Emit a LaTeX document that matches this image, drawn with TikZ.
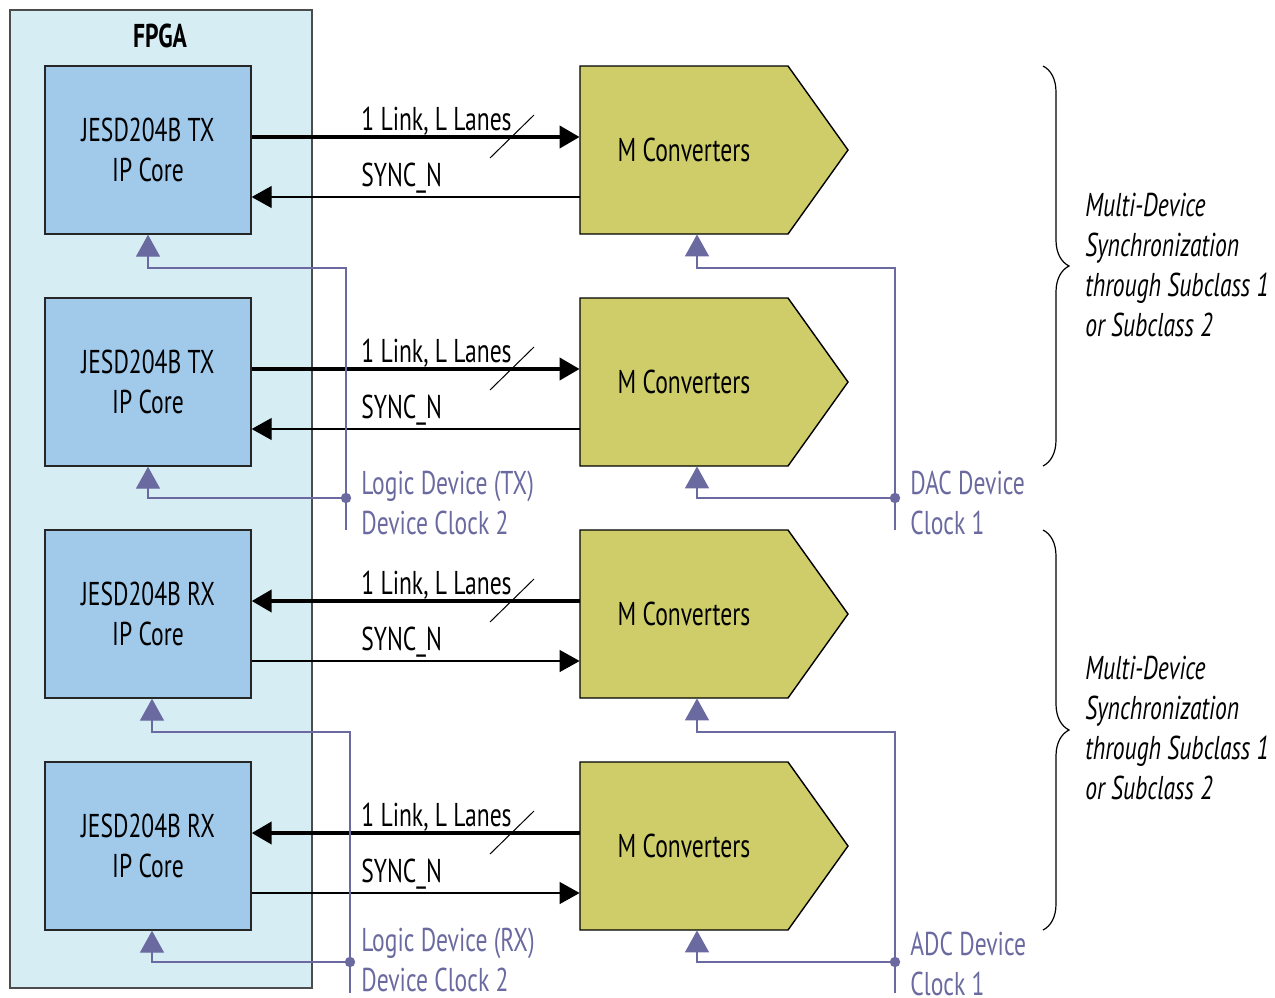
\documentclass[tikz,border=0pt]{standalone}
\usepackage{fontspec}
\setmainfont{PT Sans}[FakeStretch=0.715]
\usetikzlibrary{arrows.meta,decorations.pathreplacing}

\definecolor{fpgacyan}{RGB}{213,237,243}
\definecolor{corebl}{RGB}{160,201,234}
\definecolor{convgr}{RGB}{207,205,106}
\definecolor{clkpur}{RGB}{106,106,160}

\begin{document}
\begin{tikzpicture}[x=0.5pt,y=-0.5pt,font=\fontsize{16.5}{20}\selectfont]
		\tikzstyle fpga_style=[draw=black!70,fill=fpgacyan,line width=0.7pt,minimum width=151pt,minimum height=489pt];
		\tikzstyle core_style=[draw=black!85,fill=corebl,line width=0.7pt,minimum width=103pt,minimum height=84pt,align=center];
		\tikzstyle conv_style=[minimum width=104pt,minimum height=84pt,inner sep=0pt];
		\tikzstyle link_style=[line width=2pt,-{Triangle[length=10pt,width=11pt]}];
		\tikzstyle sync_style=[line width=0.6pt,-{Triangle[length=10pt,width=11pt]}];
		\tikzstyle clk_style=[clkpur,line width=0.7pt,-{Triangle[length=11pt,width=12pt]}];
		\tikzstyle clk_text=[text=clkpur,anchor=west,align=left,inner sep=0pt];
		\tikzstyle label_text=[anchor=west,inner sep=0pt];

		\useasboundingbox (0,0) rectangle (1275,997);

		% FPGA
		\node[fpga_style] (fpga) at (161,499) {};
		\node[font=\fontsize{16.5}{20}\selectfont\bfseries] (fpganame) at (160,36) {FPGA};

		% CORES AND CONVERTERS
		\foreach \i/\y/\kind in {1/150/TX,2/382/TX,3/614/RX,4/846/RX}{
			\filldraw[fill=convgr,draw=black,line width=0.7pt]
				(580,\y-84) -- (788,\y-84) -- (848,\y) -- (788,\y+84) -- (580,\y+84) -- cycle;
			\node[core_style] (core\i) at (148,\y) {JESD204B \kind\\IP Core};
			\node[conv_style] (conv\i) at (684,\y) {M Converters};
			\node[label_text] (lnk\i) at (361,\y-29) {1 Link, L Lanes};
			\node[label_text] (syn\i) at (361,\y+28) {SYNC\_N};
			\draw[line width=0.5pt] (490,\y+8) -- (534,\y-35); %lane slash
		}

		% LINKS TX
		\foreach \i in {1,2}{
			\draw[link_style] ([yshift=6.5pt]core\i.east) -- ([yshift=6.5pt]conv\i.west);
			\draw[sync_style] ([yshift=-23.5pt]conv\i.west) -- ([yshift=-23.5pt]core\i.east);
		}
		% LINKS RX
		\foreach \i in {3,4}{
			\draw[link_style] ([yshift=6.5pt]conv\i.west) -- ([yshift=6.5pt]core\i.east);
			\draw[sync_style] ([yshift=-23.5pt]core\i.east) -- ([yshift=-23.5pt]conv\i.west);
		}

		% DEVICE CLOCKS
		\foreach \a/\b/\ytop/\ydot/\yend/\dx/\kx/\tag in {1/2/268/498/530/0pt/346/core, 3/4/732/962/993/2pt/350/core,
				1/2/268/498/530/6.5pt/895/conv, 3/4/732/962/993/6.5pt/895/conv}{
			\coordinate (kin\tag\a) at ([xshift=\dx]\tag\a.south);
			\coordinate (kin\tag\b) at ([xshift=\dx]\tag\b.south);
			\coordinate (ktop\tag\a) at (\kx,\ytop);
			\coordinate (kdot\tag\b) at (\kx,\ydot);
			\coordinate (kend\tag\b) at (\kx,\yend);
			\draw[clk_style] (kend\tag\b) -- (ktop\tag\a) -| (kin\tag\a);
			\draw[clk_style] (kdot\tag\b) -| (kin\tag\b);
			\fill[clkpur] (kdot\tag\b) circle (2.6pt);
		}
		\node[clk_text] (txclk) at (361,503) {Logic Device (TX)\\Device Clock 2};
		\node[clk_text] (rxclk) at (361,960) {Logic Device (RX)\\Device Clock 2};
		\node[clk_text] (dacclk) at (910,503) {DAC Device\\Clock 1};
		\node[clk_text] (adcclk) at (910,964) {ADC Device\\Clock 1};

		% BRACES
		\draw[line width=0.6pt,decorate,decoration={brace,amplitude=13pt}] (1043,66) -- (1043,466);
		\draw[line width=0.6pt,decorate,decoration={brace,amplitude=13pt}] (1043,530) -- (1043,930);
		\node[label_text,align=left,font=\fontsize{16.5}{20}\selectfont\itshape] (sync1) at (1085,265)
			{Multi-Device\\Synchronization\\through Subclass 1\\or Subclass 2};
		\node[label_text,align=left,font=\fontsize{16.5}{20}\selectfont\itshape] (sync2) at (1085,728)
			{Multi-Device\\Synchronization\\through Subclass 1\\or Subclass 2};
\end{tikzpicture}
\end{document}
